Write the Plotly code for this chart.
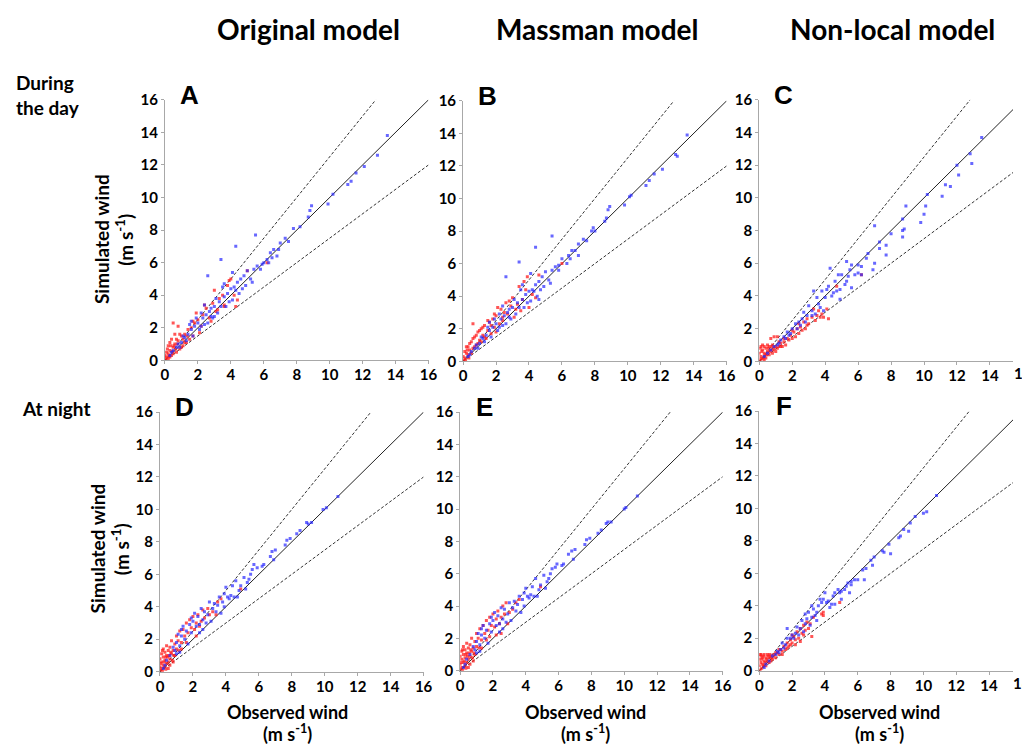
import plotly.graph_objects as go

W, H = 1022, 747

# ---------------- data (observed, simulated) ----------------
A_blue = [(13.5,13.8),(12.9,12.6),(12.1,11.9),(11.6,11.5),(11.3,11.0),(11.1,10.8),(10.2,10.2),(9.9,9.6),
          (8.9,9.5),(8.8,9.2),(8.7,8.8),(8.2,8.2),(7.8,8.1),(7.3,7.5),(7.0,7.2),(6.9,6.8),(6.6,6.8),(6.4,6.6),
          (6.2,6.2),(6.0,6.0),(5.9,5.9),(5.6,5.8),(5.4,5.6),(5.5,7.7),(4.3,7.0),(3.4,6.2),(2.6,5.2),(5.0,5.5),
          (4.8,5.2),(4.6,5.0),(4.4,4.8),(4.2,4.5),(4.0,4.4),(3.8,4.1),(3.6,3.9),(3.5,4.5),(3.3,3.6),(3.1,3.8),
          (3.0,3.3),(2.8,3.2),(2.7,3.0),(2.5,2.8),(2.3,2.6),(2.2,2.9),(2.0,2.3),(1.9,2.6),(1.8,2.1),(1.6,1.9),
          (1.5,2.2),(1.4,1.6),(1.2,1.4),(1.1,1.5),(1.0,1.1),(0.8,1.0),(0.7,0.8),(0.5,0.6),(0.4,0.5),(0.3,0.3),
          (4.5,4.1),(4.9,4.6),(3.9,3.6),(3.2,2.9),(2.6,2.3),(2.1,1.9),(1.7,1.5),(1.3,1.2),(5.2,5.0),(5.8,5.6),
          (6.5,6.3),(7.5,7.3),(6.8,6.4),(5.3,4.8),(4.1,3.7),(3.7,3.3),(2.9,2.6),(2.4,2.2),(0.9,0.8),(4.7,4.4),
          (3.4,3.3),(2.8,2.7),(2.2,2.1),(4.3,4.3),(3.0,2.7),(6.3,6.0),(3.6,4.7),(2.4,3.4),(1.6,2.4),(4.1,5.4)]
A_red = [(0.1,0.2),(0.2,0.1),(0.2,0.4),(0.3,0.6),(0.4,0.3),(0.5,0.8),(0.5,0.4),(0.6,1.0),(0.7,0.5),(0.8,1.2),
         (0.9,0.7),(1.0,1.5),(1.1,0.9),(1.2,1.6),(1.3,1.1),(1.4,1.9),(1.5,1.3),(1.6,2.0),(1.7,1.5),(1.8,2.3),
         (0.3,1.1),(0.4,1.3),(0.6,1.6),(0.8,2.1),(0.2,0.9),(0.1,0.5),(0.0,0.3),(0.15,0.7),(2.0,2.5),(2.2,2.1),
         (2.3,2.8),(2.5,3.2),(2.7,2.6),(2.9,3.5),(3.1,3.0),(3.3,3.8),(3.5,4.0),(3.6,3.4),(3.8,4.6),(4.0,5.0),
         (4.2,4.0),(4.4,3.7),(3.6,3.3),(2.8,2.4),(3.0,4.3),(1.9,2.9),(2.4,3.4),(3.9,4.9),(1.7,2.4),(1.2,1.1),
         (0.7,1.3),(0.9,1.6),(0.35,0.9),(0.25,0.25),(0.45,0.55),(0.55,0.9),(0.65,0.7),(4.3,3.3),(2.1,1.7),
         (3.2,3.1),(5.0,5.5),(6.2,6.0),(1.1,1.3),(0.75,1.0),(1.35,1.5),(0.5,2.3),(0.05,0.1),(0.3,0.2),(1.0,0.8)]

B_blue = [(13.6,13.9),(12.9,12.7),(13.0,12.6),(12.1,11.8),(11.6,11.5),(11.3,11.1),(11.1,10.8),(10.2,10.2),
          (10.1,10.1),(9.8,9.6),(8.9,9.5),(8.8,9.3),(8.7,8.8),(8.6,8.6),(7.9,8.2),(7.8,8.0),(8.0,8.0),(7.3,7.5),
          (7.0,7.2),(7.0,6.5),(6.8,6.8),(6.6,6.8),(6.4,6.5),(6.0,6.3),(5.8,5.9),(5.6,5.8),(5.4,5.6),(5.4,7.7),
          (4.4,7.0),(3.4,6.1),(2.6,5.2),(5.0,5.5),(4.8,5.2),(4.6,4.9),(4.4,4.7),(4.2,4.4),(4.0,4.3),(3.8,4.1),
          (3.6,3.8),(3.5,4.4),(3.3,3.6),(3.1,3.8),(3.0,3.3),(2.8,3.2),(2.7,3.0),(2.5,2.8),(2.3,2.6),(2.2,2.9),
          (2.0,2.3),(1.9,2.6),(1.8,2.1),(1.6,1.9),(1.5,2.1),(1.4,1.6),(1.2,1.4),(1.1,1.5),(1.0,1.1),(0.8,1.0),
          (0.7,0.8),(0.5,0.6),(0.4,0.4),(0.3,0.3),(4.5,4.0),(4.9,4.6),(3.9,3.6),(3.2,2.9),(2.6,2.3),(2.1,1.9),
          (1.7,1.5),(1.3,1.2),(5.2,5.0),(5.8,5.6),(6.5,6.3),(7.5,7.4),(5.3,4.8),(4.1,3.7),(3.7,3.3),(2.9,2.6),
          (2.4,2.2),(0.9,0.8),(4.7,4.4),(3.4,3.3),(2.8,2.7),(2.2,2.1),(4.3,4.3),(6.3,6.0),(3.6,4.7),(2.4,3.4),
          (1.6,2.4),(4.1,5.4),(4.6,3.8)]
B_red = [(0.1,0.2),(0.2,0.5),(0.3,0.9),(0.4,0.7),(0.5,1.2),(0.6,0.8),(0.7,1.5),(0.8,1.0),(0.9,1.8),(1.0,1.3),
         (1.1,2.0),(1.2,1.6),(1.3,2.2),(1.4,1.4),(1.5,1.9),(1.6,2.4),(1.7,1.7),(1.8,2.6),(1.9,2.1),(2.0,2.8),
         (2.2,2.3),(2.3,3.2),(2.4,2.7),(2.6,3.6),(2.7,2.9),(2.9,3.4),(3.0,3.9),(3.2,3.2),(3.4,4.6),(3.6,3.8),
         (3.8,4.4),(3.9,5.2),(4.0,3.3),(3.5,3.1),(0.6,2.3),(6.0,6.0),(4.6,5.3),(0.1,0.6),(0.2,0.9),(0.0,0.3),
         (0.3,0.4),(0.4,1.1),(0.5,0.5),(0.6,1.4),(0.7,0.9),(0.8,1.6),(0.9,1.1),(1.0,1.9),(1.1,1.2),(1.2,2.1),
         (1.3,1.5),(1.5,2.5),(1.7,2.2),(2.1,3.3),(2.5,3.0),(2.8,3.7),(3.3,3.5),(3.7,4.9),(4.2,4.1),(4.4,3.9),
         (0.15,0.1),(0.35,0.2),(0.25,0.7),(1.9,2.9),(2.4,2.5),(3.1,2.7),(2.0,1.8),(0.05,0.05)]

C_blue = [(13.5,13.7),(12.8,12.7),(12.9,12.1),(12.0,12.0),(12.1,11.4),(11.6,10.7),(11.3,10.8),(11.1,10.1),
          (10.2,10.2),(10.1,9.5),(10.0,9.0),(9.8,8.5),(8.9,9.5),(8.7,8.7),(8.8,8.1),(8.7,7.6),(8.7,8.0),
          (8.0,7.8),(7.7,7.1),(7.7,6.5),(7.3,7.3),(7.3,6.9),(7.0,8.3),(7.0,6.0),(6.9,5.6),(6.6,6.6),(6.5,6.3),
          (6.2,5.8),(6.0,5.9),(5.8,5.3),(5.6,5.9),(5.4,5.2),(5.3,6.1),(5.2,4.7),(5.0,5.3),(4.9,4.4),(4.8,5.3),
          (4.6,4.9),(4.5,4.2),(4.4,4.0),(4.3,5.7),(4.2,4.6),(4.0,3.9),(3.8,4.3),(3.6,3.5),(3.5,3.9),(3.3,4.3),
          (3.2,3.1),(3.0,3.4),(2.9,2.8),(2.7,3.0),(2.6,2.6),(2.4,2.4),(2.2,2.3),(2.0,2.0),(1.9,1.7),(1.7,1.8),
          (1.5,1.5),(1.3,1.3),(1.1,1.0),(0.9,0.9),(0.7,0.7),(0.5,0.5),(0.3,0.3),(3.9,3.1),(4.9,3.8),(5.6,4.5),
          (6.2,5.3),(2.8,2.4),(3.4,2.9),(1.8,1.6),(5.3,4.9),(3.2,2.8),(4.7,4.3),(5.5,5.6),(6.0,5.4),(4.1,4.4),
          (2.5,2.2),(3.7,3.3),(1.6,1.4),(1.2,1.1),(2.3,2.0)]
C_red = [(0.0,0.5),(0.1,0.9),(0.1,0.3),(0.2,0.7),(0.2,1.0),(0.3,0.5),(0.3,0.9),(0.4,0.2),(0.4,0.8),(0.5,0.6),
         (0.5,1.0),(0.6,0.4),(0.6,0.9),(0.7,0.7),(0.8,0.5),(0.8,1.0),(0.9,0.8),(1.0,0.6),(1.0,0.9),(0.9,1.5),
         (1.1,1.5),(0.7,1.4),(1.2,0.9),(1.3,1.1),(1.4,0.9),(1.5,1.2),(1.6,1.0),(1.7,1.4),(1.8,1.3),(1.9,1.6),
         (2.0,1.4),(2.1,1.8),(2.2,1.5),(2.3,2.0),(2.4,1.7),(2.5,2.1),(2.6,1.9),(2.7,2.4),(2.8,2.0),(2.9,2.6),
         (3.0,2.3),(3.2,2.7),(3.4,2.5),(3.6,3.1),(3.8,2.9),(3.9,2.7),(4.1,3.2),(4.2,2.6),(3.7,2.7),(4.7,4.6),
         (6.2,5.3),(2.0,1.9),(1.5,1.4),(0.05,0.1),(0.15,0.15),(0.25,0.2),(1.2,1.2),(0.35,0.4),(3.3,3.2),
         (2.4,2.3),(0.15,0.6),(0.45,0.4),(0.55,0.8),(0.65,0.6),(0.75,0.9),(0.85,0.7),(0.05,0.8),(0.3,0.1),
         (1.1,0.8),(1.3,0.9),(2.9,2.2),(3.5,2.8)]

D_blue = [(10.8,10.8),(10.1,10.1),(9.9,10.0),(9.2,9.2),(9.0,9.1),(8.9,9.2),(8.5,8.7),(8.3,8.5),(7.9,8.2),
          (7.7,8.1),(7.6,7.8),(7.0,7.5),(6.8,7.4),(6.7,7.1),(6.9,6.9),(6.3,6.6),(6.2,6.5),(5.9,6.4),(5.7,6.6),
          (5.6,6.3),(5.5,6.0),(5.4,5.7),(5.3,5.5),(5.1,5.8),(4.9,5.3),(4.8,5.0),(4.6,5.6),(4.4,5.3),(4.3,4.7),
          (4.2,4.5),(4.0,5.2),(3.9,4.8),(3.8,4.3),(3.6,4.6),(3.5,4.1),(3.3,4.2),(3.2,3.9),(3.0,4.3),(2.9,3.5),
          (2.7,3.7),(2.6,3.2),(2.5,3.9),(2.3,3.4),(2.2,2.8),(2.1,3.6),(2.0,3.1),(1.9,2.4),(1.8,2.9),(1.6,2.5),
          (1.5,2.0),(1.4,2.8),(1.3,2.2),(1.2,1.6),(1.1,2.3),(1.0,1.8),(0.9,1.3),(0.8,1.5),(0.6,1.0),(0.4,0.7),
          (0.3,0.4),(2.4,2.4),(3.1,3.1),(1.7,1.7),(4.5,4.6),(5.2,5.1),(2.8,3.0),(3.7,3.6),(1.2,1.2),(0.2,0.2),
          (4.7,4.6),(4.1,4.6),(3.4,3.7),(2.4,2.9),(1.9,3.3),(1.3,2.6),(3.9,4.0),(2.6,2.6),(1.0,1.1)]
D_red = [(0.0,0.3),(0.0,0.8),(0.1,0.2),(0.1,0.6),(0.1,1.1),(0.2,0.4),(0.2,0.9),(0.2,1.4),(0.3,0.3),(0.3,0.7),
         (0.3,1.2),(0.4,0.5),(0.4,1.0),(0.4,1.6),(0.5,0.6),(0.5,1.3),(0.6,0.8),(0.6,1.5),(0.7,1.1),(0.7,1.9),
         (0.8,1.3),(0.9,1.7),(1.0,1.4),(1.0,2.2),(1.1,1.9),(1.2,2.5),(1.3,1.8),(1.4,2.6),(1.5,2.2),(1.6,3.0),
         (1.7,2.4),(1.8,3.2),(1.9,2.7),(2.0,3.4),(2.1,2.6),(2.2,3.0),(2.3,3.5),(2.4,2.8),(2.5,3.1),(2.6,3.8),
         (2.7,3.3),(2.9,3.9),(3.0,3.5),(3.2,3.7),(3.5,4.3),(3.7,4.5),(3.4,3.5),(4.9,5.1),(0.5,0.2),(0.8,0.6),
         (0.15,0.05),(0.35,0.15),(1.3,1.4),(2.2,2.2),(0.6,0.4),(0.05,0.5),(0.25,0.6),(0.45,0.9),(0.9,1.0),
         (0.15,1.3),(0.35,0.9),(0.55,1.0),(0.65,1.2),(0.75,0.7),(0.85,1.0),(1.15,1.3),(1.6,1.8),(0.05,0.1)]

E_blue = [(10.8,10.8),(10.1,10.1),(10.0,10.0),(9.2,9.2),(9.0,9.2),(8.9,9.1),(8.6,8.7),(8.4,8.5),(7.9,8.2),
          (7.7,8.1),(7.6,7.8),(7.0,7.5),(6.8,7.4),(6.6,7.2),(6.9,6.9),(6.3,6.6),(6.2,6.5),(5.9,6.6),(5.8,6.4),
          (5.6,6.3),(5.5,6.0),(5.4,5.7),(5.3,5.5),(5.1,5.9),(4.9,5.3),(4.8,5.0),(4.6,5.7),(4.4,5.2),(4.3,4.7),
          (4.2,4.5),(4.0,5.1),(3.9,4.8),(3.8,4.4),(3.6,4.6),(3.5,4.1),(3.3,4.3),(3.2,3.9),(3.0,4.2),(2.9,3.5),
          (2.7,3.8),(2.6,3.2),(2.5,3.9),(2.3,3.4),(2.2,2.8),(2.1,3.6),(2.0,3.1),(1.9,2.4),(1.8,2.9),(1.6,2.5),
          (1.5,2.0),(1.4,2.8),(1.3,2.2),(1.2,1.6),(1.1,2.3),(1.0,1.8),(0.9,1.3),(0.8,1.5),(0.6,1.0),(0.4,0.7),
          (0.3,0.4),(2.4,2.4),(3.1,3.1),(1.7,1.7),(4.5,4.6),(5.2,5.1),(2.8,3.0),(3.7,3.6),(1.2,1.2),(0.2,0.2),
          (4.7,4.6),(4.1,4.6),(3.4,3.7),(2.4,2.9),(1.9,3.3),(1.3,2.6),(3.9,4.0),(2.6,2.6),(1.0,1.1)]
E_red = [(0.0,0.4),(0.0,0.9),(0.1,0.2),(0.1,0.7),(0.1,1.2),(0.2,0.5),(0.2,1.0),(0.2,1.5),(0.3,0.3),(0.3,0.8),
         (0.3,1.3),(0.4,0.5),(0.4,1.1),(0.4,1.7),(0.5,0.7),(0.5,1.4),(0.6,0.9),(0.6,1.6),(0.7,1.2),(0.7,2.0),
         (0.8,1.4),(0.9,1.8),(1.0,1.5),(1.0,2.3),(1.1,2.0),(1.2,2.6),(1.3,1.9),(1.4,2.8),(1.5,2.3),(1.6,3.1),
         (1.7,2.5),(1.8,3.3),(1.9,2.8),(2.0,3.5),(2.1,2.7),(2.2,3.2),(2.3,3.7),(2.4,2.9),(2.5,3.3),(2.6,4.0),
         (2.7,3.5),(2.8,4.2),(3.0,3.6),(3.2,3.8),(3.4,4.2),(3.6,4.4),(2.5,2.3),(4.9,5.2),(0.5,0.2),(0.8,0.6),
         (0.15,0.05),(0.35,0.15),(1.3,1.4),(2.2,2.2),(0.6,0.4),(0.05,0.5),(0.25,0.6),(0.45,0.9),(0.9,1.0),
         (0.15,1.3),(0.35,1.0),(0.55,1.1),(0.65,1.3),(0.75,0.8),(0.85,1.1),(1.15,1.4),(1.6,1.9),(0.05,0.1),
         (2.9,2.9),(1.8,2.1)]

F_blue = [(10.8,10.8),(10.2,9.8),(10.0,9.7),(9.5,9.5),(9.2,9.1),(9.1,8.6),(8.8,8.7),(8.6,8.3),(8.5,8.2),
          (8.0,7.2),(7.9,7.8),(7.6,7.3),(7.5,7.4),(7.0,7.0),(6.9,6.5),(6.8,6.8),(6.5,6.3),(6.3,6.2),(6.4,5.6),
          (6.0,5.6),(5.8,5.6),(5.6,5.3),(5.6,5.5),(5.5,4.8),(5.3,5.2),(5.2,5.0),(5.0,4.9),(5.0,4.4),(4.8,5.0),
          (4.6,4.8),(4.5,4.6),(4.4,4.1),(4.2,4.3),(4.0,4.8),(3.9,4.4),(3.8,4.2),(3.6,4.0),(3.5,3.6),(3.3,3.8),
          (3.2,3.3),(3.0,3.6),(2.9,3.2),(2.8,2.9),(2.6,3.1),(2.5,2.6),(2.3,2.7),(2.2,2.3),(2.0,2.2),(1.9,2.0),
          (1.7,2.0),(1.6,1.6),(1.4,1.7),(1.3,1.3),(1.1,1.2),(1.0,1.0),(0.8,0.9),(0.6,0.6),(0.4,0.4),(0.3,0.2),
          (3.1,2.8),(3.5,3.1),(2.4,2.2),(4.3,3.9),(2.7,2.4),(1.5,1.4),(4.6,4.1),(3.2,4.0),(2.8,3.5),(1.7,2.6),
          (3.7,4.4),(4.1,4.2),(2.1,2.0),(1.2,1.1),(3.4,3.4),(4.9,4.8),(5.4,5.4)]
F_red = [(0.0,0.3),(0.0,0.7),(0.1,0.5),(0.1,0.9),(0.1,1.0),(0.2,0.4),(0.2,0.8),(0.3,0.6),(0.3,1.0),(0.4,0.3),
         (0.4,0.8),(0.5,0.6),(0.5,1.0),(0.6,0.8),(0.6,0.5),(0.7,0.9),(0.8,0.7),(0.9,1.0),(1.0,0.8),(1.1,1.1),
         (1.2,1.0),(1.3,1.3),(1.4,1.2),(1.5,1.5),(1.6,1.3),(1.7,1.7),(1.8,1.5),(1.9,1.9),(2.0,1.7),(2.1,2.1),
         (2.2,1.9),(2.3,2.4),(2.4,2.0),(2.5,2.6),(2.6,2.3),(2.5,1.8),(2.7,2.8),(2.8,2.5),(2.9,3.0),(3.0,2.6),
         (3.1,2.9),(3.2,2.1),(3.3,3.3),(3.8,3.5),(3.9,3.6),(3.9,3.4),(4.9,4.2),(2.2,1.6),(1.7,1.4),(0.15,0.15),
         (0.25,0.3),(0.05,0.05),(0.7,0.6),(1.2,1.3),(2.0,2.2),(2.7,2.2),(1.9,1.6),(0.35,0.5),(0.15,0.7),
         (0.25,0.9),(0.45,0.7),(0.55,0.9),(0.65,1.0),(0.75,0.8),(0.85,0.9),(0.05,1.0),(1.0,1.1),(1.4,1.0)]

panel_letters = ["A", "B", "C", "D", "E", "F"]
column_titles = ["Original model", "Massman model", "Non-local model"]
row_titles = ["During<br>the day", "At night"]
y_title = ["Simulated wind", "(m s<sup>-1</sup>)"]
x_title = ["Observed wind", "(m s<sup>-1</sup>)"]
tick_values = [0, 2, 4, 6, 8, 10, 12, 14, 16]
ref_slopes = [1.0, 1.25, 0.75]          # 1:1 line and +/-25 % lines
axis_max = 16

panels = [
    ("A", A_blue, A_red, (163, 430), (92, 359)),
    ("B", B_blue, B_red, (465, 732), (93, 360)),
    ("C", C_blue, C_red, (765, 1032), (92, 360)),
    ("D", D_blue, D_red, (158, 425), (412, 678)),
    ("E", E_blue, E_red, (462, 728), (412, 677)),
    ("F", F_blue, F_red, (765, 1031), (411, 677)),
]

TICKFONT = dict(family="Lato", size=15, color="black", weight="bold")
LABFONT = dict(family="Lato", size=19, color="black", weight="bold")
XLABFONT = dict(family="Lato", size=18, color="black", weight="bold")
AXCOL = "#a8a8a8"

fig = go.Figure()
layout = dict(width=W, height=H, margin=dict(l=0, r=0, t=0, b=0),
              plot_bgcolor="white", paper_bgcolor="white", showlegend=False)
annotations = []


def pann(x, y, text, font, **kw):
    d = dict(xref="paper", yref="paper", x=x / W, y=1 - y / H, text=text, showarrow=False,
             xanchor="center", yanchor="middle", font=font)
    d.update(kw)
    annotations.append(d)


for i, (letter, blue, red, (px0, px1), (py0, py1)) in enumerate(panels):
    n = i + 1
    xa = "x" if n == 1 else f"x{n}"
    ya = "y" if n == 1 else f"y{n}"
    xr_max = axis_max
    px1c = px1
    if px1 > W:  # panel runs off the page: clip domain, keep scale
        xr_max = axis_max * (W - px0) / (px1 - px0)
        px1c = W
    xdom = [px0 / W, px1c / W]
    ydom = [1 - py1 / H, 1 - py0 / H]

    for k, s in enumerate(ref_slopes):
        xe = min(axis_max, axis_max / s)
        fig.add_trace(go.Scatter(x=[0, xe], y=[0, s * xe], mode="lines", xaxis=xa, yaxis=ya,
                                 line=dict(color="#222222" if k == 0 else "#333333", width=1,
                                           dash="solid" if k == 0 else "3px,2px"),
                                 hoverinfo="skip"))
    fig.add_trace(go.Scatter(x=[p[0] for p in red], y=[p[1] for p in red], mode="markers",
                             xaxis=xa, yaxis=ya,
                             marker=dict(symbol="square", size=3, color="rgba(255,30,30,0.75)",
                                         line=dict(width=0))))
    fig.add_trace(go.Scatter(x=[p[0] for p in blue], y=[p[1] for p in blue], mode="markers",
                             xaxis=xa, yaxis=ya,
                             marker=dict(symbol="square", size=3, color="rgba(40,40,255,0.7)",
                                         line=dict(width=0))))

    axcommon = dict(showgrid=False, zeroline=False, showline=True, linecolor=AXCOL, linewidth=1,
                    ticks="outside", ticklen=3, tickcolor=AXCOL, tickwidth=1,
                    tickvals=tick_values, ticktext=[str(v) for v in tick_values],
                    tickfont=TICKFONT)
    layout["xaxis" if n == 1 else f"xaxis{n}"] = dict(axcommon, domain=xdom, range=[0, xr_max],
                                                       anchor=ya, ticklabelstandoff=-2)
    layout["yaxis" if n == 1 else f"yaxis{n}"] = dict(axcommon, domain=ydom, range=[0, axis_max],
                                                       anchor=xa)
    if xr_max < axis_max:  # partially visible last x tick label
        annotations.append(dict(xref="paper", yref="paper",
                                x=xdom[0] + (xdom[1] - xdom[0]) * axis_max / xr_max,
                                y=ydom[0], yanchor="top", xanchor="center", yshift=-1,
                                text=str(axis_max), showarrow=False, font=TICKFONT))
    pann(px0 + 25, py0 - 5, letter,
         dict(family="Liberation Sans", size=26, color="black", weight="bold"))

# column titles
for cx, t in zip([308, 601, 900], column_titles):
    pann(cx, 19, t, dict(family="Lato", size=28, color="black", weight="bold"))
# row titles
pann(10, 87, row_titles[0], LABFONT, xanchor="left", align="left")
pann(16, 408, row_titles[1], LABFONT, xanchor="left", align="left")
# y axis titles (two lines)
for cx, cy in [(99, 235), (95, 552)]:
    pann(cx, cy, y_title[0], LABFONT, textangle=-90)
    pann(cx + 23, cy, y_title[1], LABFONT, textangle=-90)
# x axis titles (two lines)
for cx in [287, 589, 887]:
    pann(cx, 719, x_title[0], XLABFONT)
    pann(cx, 726, x_title[1], XLABFONT, yanchor="top")

layout["annotations"] = annotations
fig.update_layout(**layout)
fig.write_html("out.html", config={"displayModeBar": False},
               post_script="document.body.style.margin='0';document.body.style.overflow='hidden';")
